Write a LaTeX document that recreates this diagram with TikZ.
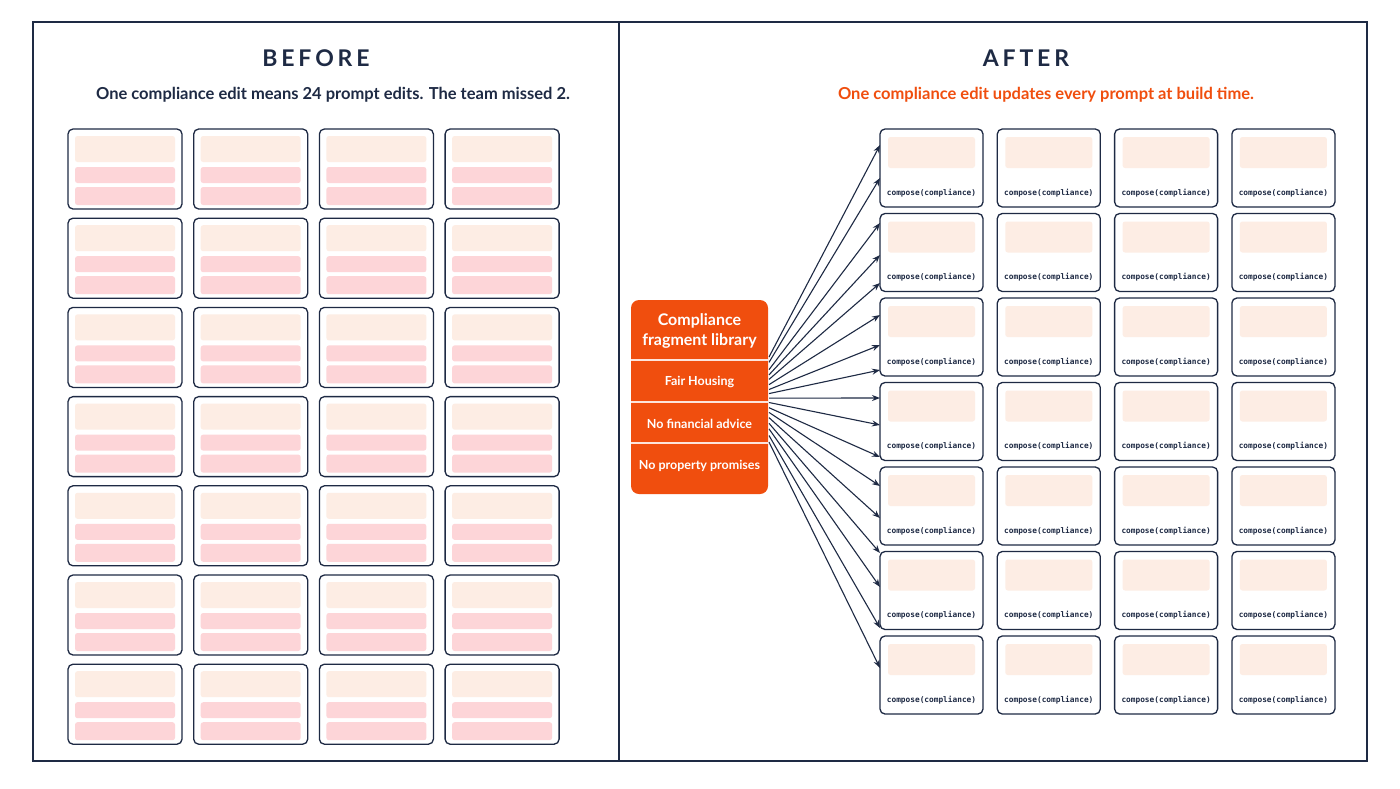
\documentclass[tikz,border=0pt]{standalone}
\usepackage{fontspec}
\setmainfont{Lato}
\newfontfamily\monof{DejaVu Sans Mono}
\usetikzlibrary{arrows.meta}
\definecolor{navy}{HTML}{1E2A44}
\definecolor{peach}{HTML}{FDEDE4}
\definecolor{pinkb}{HTML}{FDD5D8}
\definecolor{orng}{HTML}{F04E0E}
\tikzset{
  x=1pt,y=-1pt,
  card/.style={draw=navy,line width=1.3pt,rounded corners=5pt,fill=white},
  band/.style={rounded corners=2.5pt},
  conn/.style={draw=navy,line width=1.1pt,-{Stealth[length=8pt,width=6pt]}},
  ttl/.style={font=\bfseries\fontsize{23}{27}\selectfont,text=navy},
}
\begin{document}
\begin{tikzpicture}
\useasboundingbox (0,0) rectangle (1400,788);
\fill[white] (0,0) rectangle (1400,788);
\draw[navy,line width=1.5pt] (33,22) rectangle (1367,761);
\draw[navy,line width=1.5pt] (619,22) -- (619,761);
\node[ttl] (tb) at (316,58) {B\,E\,F\,O\,R\,E};
\node[ttl] (ta) at (1026,58) {A\,F\,T\,E\,R};
\node[font=\fontsize{16.5}{20}\selectfont\bfseries,text=navy] (sb) at (333,95) {One compliance edit means 24 prompt edits. The team missed 2.};
\node[font=\fontsize{16.5}{20}\selectfont\bfseries,text=orng] (sa) at (1046,95) {One compliance edit updates every prompt at build time.};
% left cards
\foreach \c in {0,...,3}{
 \foreach \r in {0,...,6}{
  \pgfmathsetmacro\X{68+125.7*\c}
  \pgfmathsetmacro\Y{129+89.2*\r}
  \draw[card] (\X,\Y) rectangle ++(114,80);
  \fill[peach,band] (\X+7,\Y+7) rectangle ++(100,26);
  \fill[pinkb,band] (\X+7,\Y+38) rectangle ++(100,16);
  \fill[pinkb,band] (\X+7,\Y+58) rectangle ++(100,18);
 }}
% right cards
\foreach \c in {0,...,3}{
 \foreach \r in {0,...,6}{
  \pgfmathsetmacro\X{880+117.3*\c}
  \pgfmathsetmacro\Y{129+84.5*\r}
  \draw[card] (\X,\Y) rectangle ++(103,78);
  \fill[peach,band] (\X+8,\Y+8) rectangle ++(87,31);
  \node[font=\monof\bfseries\fontsize{7.8}{9}\selectfont,text=navy] (rc\c\r) at (\X+51.5,\Y+64) {compose(compliance)};
 }}
% library
\fill[orng,rounded corners=8pt] (631,300) rectangle (768,494);
\draw[white!85!orng,line width=1.2pt] (631,360) -- (768,360) (631,402) -- (768,402) (631,443) -- (768,443);
\node[text=white,font=\bfseries\fontsize{16}{20}\selectfont,align=center] (lib) at (699.5,331) {Compliance\\fragment library};
\node[text=white,font=\bfseries\fontsize{12.5}{14}\selectfont] (f1) at (699.5,382) {Fair Housing};
\node[text=white,font=\bfseries\fontsize{12.5}{14}\selectfont] (f2) at (699.5,424) {No financial advice};
\node[text=white,font=\bfseries\fontsize{12.5}{14}\selectfont] (f3) at (699.5,466) {No property promises};
% arrows
\foreach \t [count=\i] in {145,178,223,255,283,315,345,370,398,425,457,486,518,553,587,628,668}{
  \pgfmathsetmacro\o{357+(\t-145)/(668-145)*85}
  \coordinate (s\i) at (769,\o);
  \coordinate (e\i) at (880,\t);
  \draw[conn] (s\i) -- (e\i);
}
\end{tikzpicture}
\end{document}
